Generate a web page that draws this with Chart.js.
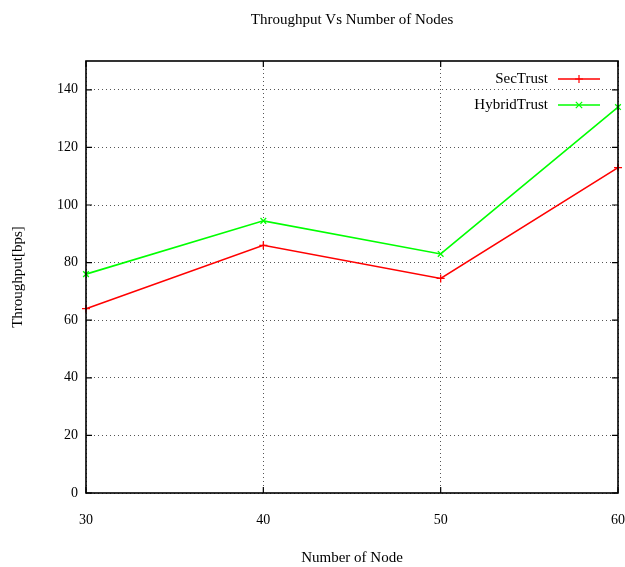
<!DOCTYPE html>
<html><head><meta charset="utf-8">
<script src="https://cdn.jsdelivr.net/npm/chart.js@4"></script>
<style>html,body{margin:0;padding:0;background:#fff}#c{display:block}</style>
</head><body>
<canvas id="c" width="625" height="567"></canvas>
<script>
const nodes = [30, 40, 50, 60];
const secTrust = [64, 86, 74.5, 113];
const hybridTrust = [76, 94.5, 83, 134];
const yTicks = [0, 20, 40, 60, 80, 100, 120, 140];
const xTicks = [30, 40, 50, 60];
const seriesNames = ['SecTrust', 'HybridTrust'];
const chartTitle = 'Throughput Vs Number of Nodes';
const xTitle = 'Number of Node';
const yTitle = 'Throughput[bps]';

const FONT = '"Liberation Serif", "Times New Roman", serif';

const gnuplotPlugin = {
  id: 'gnuplot',
  afterDraw(chart) {
    const ctx = chart.ctx;
    const a = chart.chartArea;
    const xs = chart.scales.x, ys = chart.scales.y;
    ctx.save();
    // box
    ctx.strokeStyle = '#000';
    ctx.lineWidth = 1.6;
    ctx.setLineDash([]);
    ctx.strokeRect(a.left, a.top, a.right - a.left, a.bottom - a.top);
    // inner tick marks
    ctx.lineWidth = 1.2;
    ctx.beginPath();
    yTicks.forEach(v => {
      const y = ys.getPixelForValue(v);
      ctx.moveTo(a.left, y); ctx.lineTo(a.left + 6, y);
      ctx.moveTo(a.right, y); ctx.lineTo(a.right - 6, y);
    });
    xTicks.forEach(v => {
      const x = xs.getPixelForValue(v);
      ctx.moveTo(x, a.bottom); ctx.lineTo(x, a.bottom - 6);
      ctx.moveTo(x, a.top); ctx.lineTo(x, a.top + 6);
    });
    ctx.stroke();
    // titles
    ctx.fillStyle = '#000';
    ctx.font = '15px ' + FONT;
    ctx.textAlign = 'center';
    ctx.textBaseline = 'middle';
    ctx.fillText(chartTitle, (a.left + a.right) / 2, 20);
    ctx.fillText(xTitle, (a.left + a.right) / 2, 558);
    ctx.save();
    ctx.translate(18, (a.top + a.bottom) / 2);
    ctx.rotate(-Math.PI / 2);
    ctx.fillText(yTitle, 0, 0);
    ctx.restore();
    // legend
    const rows = [79, 105];
    chart.data.datasets.forEach((ds, i) => {
      const y = rows[i];
      ctx.textAlign = 'right';
      ctx.fillStyle = '#000';
      ctx.font = '15px ' + FONT;
      ctx.fillText(ds.label, 548, y);
      ctx.strokeStyle = ds.borderColor;
      ctx.lineWidth = 1.6;
      ctx.beginPath();
      ctx.moveTo(558, y); ctx.lineTo(600, y);
      ctx.stroke();
      const mx = 579, r = 4;
      ctx.lineWidth = 1.2;
      ctx.beginPath();
      if (ds.pointStyle === 'cross') {
        ctx.moveTo(mx - r, y); ctx.lineTo(mx + r, y);
        ctx.moveTo(mx, y - r); ctx.lineTo(mx, y + r);
      } else {
        ctx.moveTo(mx - r * 0.8, y - r * 0.8); ctx.lineTo(mx + r * 0.8, y + r * 0.8);
        ctx.moveTo(mx - r * 0.8, y + r * 0.8); ctx.lineTo(mx + r * 0.8, y - r * 0.8);
      }
      ctx.stroke();
    });
    ctx.restore();
  }
};

new Chart(document.getElementById('c'), {
  type: 'line',
  data: {
    datasets: [
      {
        label: seriesNames[0],
        data: nodes.map((n, i) => ({ x: n, y: secTrust[i] })),
        borderColor: '#ff0000',
        backgroundColor: '#ff0000',
        borderWidth: 1.6,
        pointStyle: 'cross',
        pointRadius: 4,
        pointBorderWidth: 1.3,
        tension: 0,
        fill: false,
        clip: 4
      },
      {
        label: seriesNames[1],
        data: nodes.map((n, i) => ({ x: n, y: hybridTrust[i] })),
        borderColor: '#00ff00',
        backgroundColor: '#00ff00',
        borderWidth: 1.6,
        pointStyle: 'crossRot',
        pointRadius: 4,
        pointBorderWidth: 1.3,
        tension: 0,
        fill: false,
        clip: 4
      }
    ]
  },
  options: {
    responsive: false,
    animation: false,
    devicePixelRatio: 1,
    layout: { padding: { top: 61, right: 7, left: 0, bottom: 0 } },
    plugins: { legend: { display: false }, title: { display: false }, tooltip: { enabled: false } },
    scales: {
      x: {
        type: 'linear',
        min: 30, max: 60,
        afterBuildTicks(s) { s.ticks = xTicks.map(v => ({ value: v })); },
        afterFit(s) { s.height = 74; s.paddingLeft = 0; s.paddingRight = 0; },
        ticks: { color: '#000', font: { family: FONT, size: 14 }, padding: 19, maxRotation: 0 },
        grid: { color: '#555', lineWidth: 1, drawTicks: false },
        border: { display: false, dash: [1, 3] }
      },
      y: {
        min: 0, max: 150,
        afterBuildTicks(s) { s.ticks = yTicks.map(v => ({ value: v })); },
        afterFit(s) { s.width = 86; s.paddingTop = 0; s.paddingBottom = 0; },
        ticks: { color: '#000', font: { family: FONT, size: 14 }, padding: 8 },
        grid: { color: '#555', lineWidth: 1, drawTicks: false },
        border: { display: false, dash: [1, 3] }
      }
    }
  },
  plugins: [gnuplotPlugin]
});
</script>
</body></html>
